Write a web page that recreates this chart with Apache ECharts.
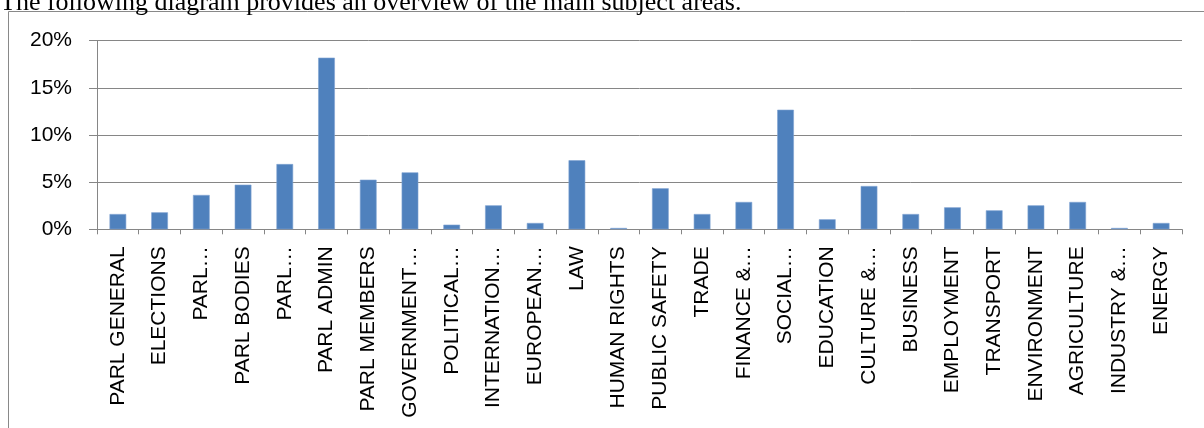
<!DOCTYPE html>
<html>
<head>
<meta charset="utf-8">
<script src="https://cdn.jsdelivr.net/npm/echarts@6/dist/echarts.min.js"></script>
<style>
html,body{margin:0;padding:0;background:#fff;}
#chart{width:1204px;height:428px;}
</style>
</head>
<body>
<div id="chart"></div>
<script>
var headline = 'The following diagram provides an overview of the main subject areas.';
var categories = ['PARL GENERAL','ELECTIONS','PARL…','PARL BODIES','PARL…','PARL ADMIN','PARL MEMBERS','GOVERNMENT…','POLITICAL…','INTERNATION…','EUROPEAN…','LAW','HUMAN RIGHTS','PUBLIC SAFETY','TRADE','FINANCE &…','SOCIAL…','EDUCATION','CULTURE &…','BUSINESS','EMPLOYMENT','TRANSPORT','ENVIRONMENT','AGRICULTURE','INDUSTRY &…','ENERGY'];
var shares = [0.0162,0.018,0.0364,0.0473,0.0692,0.182,0.0526,0.0604,0.0049,0.0254,0.0067,0.0732,0.0014,0.0435,0.0162,0.029,0.1268,0.0106,0.0459,0.0162,0.0233,0.0201,0.0254,0.029,0.0014,0.0067];
var yTicks = {min:0, max:0.2, interval:0.05};

var chart = echarts.init(document.getElementById('chart'), null, {renderer:'canvas'});
var font = '"Liberation Sans", Arial, sans-serif';
chart.setOption({
  animation:false,
  backgroundColor:'#ffffff',
  graphic:[
    {type:'rect', silent:true, shape:{x:8.5, y:11.5, width:1300, height:600}, style:{fill:'none', stroke:'#898989', lineWidth:1}, z:-1},
    {type:'text', silent:true, x:0, y:16, style:{text:headline, fill:'#000', font:'26px "Liberation Serif", "Times New Roman", serif', verticalAlign:'bottom', align:'left'}}
  ],
  grid:{left:97, right:22, top:40.7, bottom:198.7, containLabel:false},
  xAxis:{
    type:'category',
    data:categories,
    axisLine:{lineStyle:{color:'#868686', width:1}},
    axisTick:{show:true, length:5, lineStyle:{color:'#868686'}},
    axisLabel:{rotate:90, interval:0, margin:17, color:'#000', fontFamily:font, fontSize:21}
  },
  yAxis:{
    type:'value',
    min:yTicks.min, max:yTicks.max, interval:yTicks.interval,
    axisLine:{show:true, lineStyle:{color:'#868686', width:1}},
    axisTick:{show:true, length:8, lineStyle:{color:'#868686'}},
    splitLine:{lineStyle:{color:'#868686', width:1}},
    axisLabel:{margin:25, color:'#000', fontFamily:font, fontSize:21,
      formatter:function(v){return Math.round(v*100)+'%';}}
  },
  series:[{
    type:'bar',
    data:shares,
    barCategoryGap:'60%',
    itemStyle:{color:'#4F81BD', borderColor:'#7FA2D2', borderWidth:0.6}
  }]
});
</script>
</body>
</html>
